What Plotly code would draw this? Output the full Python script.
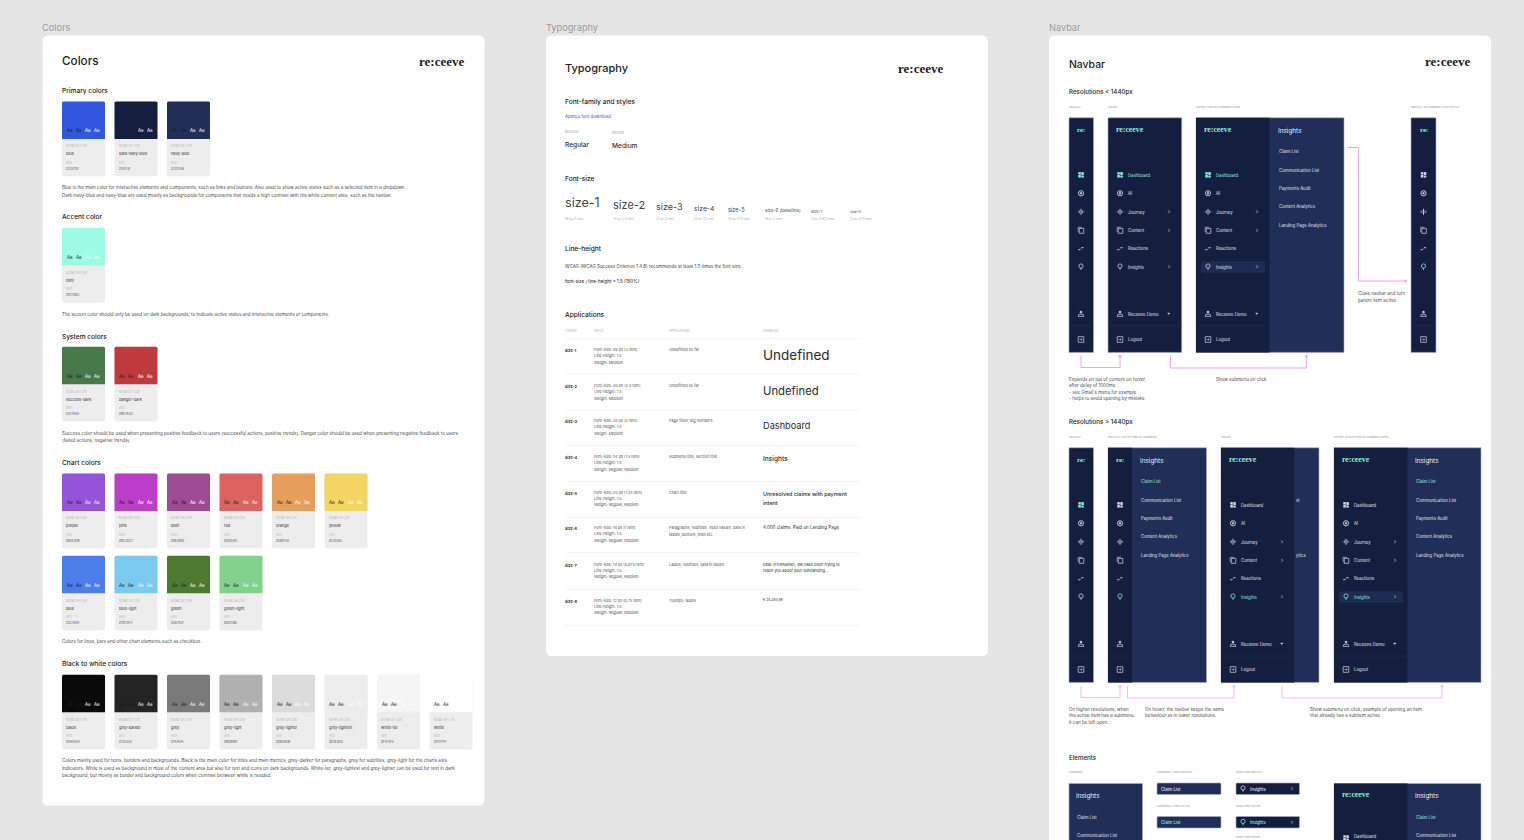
import plotly.graph_objects as go

# ---------- data (text content and palette) ----------
PANEL_LABELS = ["Colors", "Typography", "Navbar"]
PRIMARY_NAMES = ["blue", "dark-navy-blue", "navy-blue"]
PRIMARY_HEX = ["#3257DF", "#141F3F", "#202E58"]
ACCENT_NAMES = ["mint"]
ACCENT_HEX = ["#9CFBE3"]
SYSTEM_NAMES = ["success-dark", "danger-dark"]
SYSTEM_HEX = ["#47794A", "#BE3A3D"]
CHART1_NAMES = ["purple", "pink", "beet", "red", "orange", "yellow"]
CHART1_HEX = ["#9553DB", "#BC3DC7", "#9E4B94", "#DD6361", "#E69F5A", "#F3D563"]
CHART2_NAMES = ["blue", "blue-light", "green", "green-light"]
CHART2_HEX = ["#4C7EE9", "#7BCAF0", "#4D7A2F", "#82D18D"]
GREY_NAMES = ["black", "grey-darker", "grey", "grey-light", "grey-lighter", "grey-lightest", "white-ter", "white"]
GREY_HEX = ["#0A0A0A", "#242424", "#7A7A7A", "#B0B0B0", "#DBDBDB", "#EDEDED", "#F5F5F5", "#FFFFFF"]

PRIMARY_NOTE = ["Blue is the main color for interactive elements and components, such as links and buttons. Also used to show active states such as a selected item in a dropdown.",
                "Dark-navy-blue and navy-blue are used mostly as backgrounds for components that needs a high contrast with the white content area, such as the navbar."]
ACCENT_NOTE = ["The accent color should only be used on dark backgrounds, to indicate active states and interactive elements or components."]
SYSTEM_NOTE = ["Success color should be used when presenting positive feedback to users (successful actions, positive trends). Danger color should be used when presenting negative feedback to users",
               "(failed actions, negative trends)."]
CHART_NOTE = ["Colors for lines, bars and other chart elements such as checkbox."]
GREY_NOTE = ["Colors mainly used for texts, borders and backgrounds. Black is the main color for titles and main metrics, grey-darker for paragraphs, grey for subtitles, grey-light for the charts axis",
             "indicators. White is used as background in most of the content area but also for text and icons on dark backgrounds. White-ter, grey-lightest and grey-lighter can be used for text in dark",
             "background, but mostly as border and background colors when contrast between white is needed."]

SIZE_TOKENS = ["size-1", "size-2", "size-3", "size-4", "size-5", "size-6 (baseline)", "size-7", "size-8"]
SIZE_SPECS = ["48 px (3 rem)", "40 px (2.5 rem)", "32 px (2 rem)", "24 px (1.5 rem)", "20 px (1.25 rem)", "16 px (1 rem)", "14 px (0.875 rem)", "12 px (0.75 rem)"]
ROW_TOKENS = ["size-1", "size-2", "size-3", "size-4", "size-5", "size-6", "size-7", "size-8"]
ROW_SPEC1 = ["Font-size: 48 px (3 rem)", "Font-size: 40 px (2.5 rem)", "Font-size: 32 px (2 rem)", "Font-size: 24 px (1.5 rem)",
             "Font-size: 20 px (1.25 rem)", "Font-size: 16 px (1 rem)", "Font-size: 14 px (0.875 rem)", "Font-size: 12 px (0.75 rem)"]
ROW_SPEC3 = ["Weight: Medium", "Weight: Medium", "Weight: Medium", "Weight: Regular, Medium",
             "Weight: Regular, Medium", "Weight: Regular, Medium", "Weight: Regular, Medium", "Weight: Regular, Medium"]
ROW_APPS = [["Undefined so far"], ["Undefined so far"], ["Page titles, Big numbers"], ["Submenu title, Section title"], ["Chart title"],
            ["Paragraphs, subtitles, input values, data in", "tables, buttons, links etc"], ["Labels, subtitles, data in tables"], ["Tooltips, labels"]]
ROW_EXAMPLES = [["Undefined"], ["Undefined"], ["Dashboard"], ["Insights"], ["Unresolved claims with payment", "intent"],
                ["4.000 claims. Paid on Landing Page"], ["Dear {FirstName}, We have been trying to", "reach you about your outstanding..."], ["€ 24.280,89"]]

NAV_ITEMS = ["Dashboard", "AI", "Journey", "Content", "Reactions", "Insights"]
NAV_KINDS = ["dash", "ai", "journey", "content", "react", "bulb"]
NAV_ARROWS = [False, False, True, True, False, True]
SUB_ITEMS = ["Claim List", "Communication List", "Payments Audit", "Content Analytics", "Landing Page Analytics"]

# ---------- colours and helpers ----------
BG, WHITE, CARD = "#E5E5E5", "#FFFFFF", "#EDEDED"
DARK, NAVY, ACT = PRIMARY_HEX[1], PRIMARY_HEX[2], "#1E2B52"
MINT = "#8FEFD6"
INK, BODY, MUTE = "#1C1C1C", "#444444", "#B0B0B0"
ICON = "#D6D9E2"
NAVTXT = "#E2E4EB"
PINK1, PINK2 = "#EE96EE", "#F3B4F0"
FONT = "Inter"
SERIF = "Liberation Serif"
RULE = "#EEEEEE"
EDGE = "#A6ADC2"
NOTE = 4.5

shapes, notes = [], []


def rrect(x0, y0, x1, y1, fill, r=0.0, line=None, lw=0.6):
    if r:
        p = (f"M{x0+r},{y0} L{x1-r},{y0} Q{x1},{y0} {x1},{y0+r} L{x1},{y1-r} Q{x1},{y1} {x1-r},{y1} "
             f"L{x0+r},{y1} Q{x0},{y1} {x0},{y1-r} L{x0},{y0+r} Q{x0},{y0} {x0+r},{y0} Z")
        shapes.append(dict(type="path", path=p, fillcolor=fill, line=dict(width=lw if line else 0, color=line or fill), layer="below"))
    else:
        shapes.append(dict(type="rect", x0=x0, y0=y0, x1=x1, y1=y1, fillcolor=fill, line=dict(width=lw if line else 0, color=line or fill), layer="below"))


def topround(x0, y0, x1, y1, fill, r=1.5):
    p = (f"M{x0},{y1} L{x0},{y0+r} Q{x0},{y0} {x0+r},{y0} L{x1-r},{y0} Q{x1},{y0} {x1},{y0+r} L{x1},{y1} Z")
    shapes.append(dict(type="path", path=p, fillcolor=fill, line=dict(width=0), layer="below"))


def poly(pts, color, lw=0.8, fill=None, close=False):
    p = "M" + " L".join(f"{x},{y}" for x, y in pts) + (" Z" if close else "")
    shapes.append(dict(type="path", path=p, line=dict(color=color, width=lw), fillcolor=fill or "rgba(0,0,0,0)", layer="below"))


def circ(cx, cy, r, color, fill=None, lw=0.7):
    shapes.append(dict(type="circle", x0=cx-r, y0=cy-r, x1=cx+r, y1=cy+r, fillcolor=fill or "rgba(0,0,0,0)", line=dict(color=color, width=lw), layer="below"))


def t(x, y, s, size=4.5, color=BODY, weight=400, fam=FONT, anchor="left"):
    notes.append(dict(x=x, y=y+0.4, text=s, showarrow=False, xanchor=anchor, yanchor="middle", borderpad=0, borderwidth=0,
                      font=dict(size=size, color=color, family=fam, weight=weight), align="left"))


def logo(x, y, size=13, color=INK):
    t(x, y, "re:ceeve", size, color, 700, SERIF)


def swatch(x, top, name, hexv):
    w, h1, h2 = 43, 37.5, 74.8
    rrect(x, top, x+w, top+h2, CARD, 2)
    if hexv.upper() != "#FFFFFF":
        topround(x, top, x+w, top+h1, hexv)
    else:
        rrect(x, top, x+w, top+h1, WHITE)
    dark = "#1A1A1A"
    for dx, c in zip((7.7, 16.5, 26, 35), (dark, dark, "#FFFFFF", "#FFFFFF")):
        t(x+dx, top+29, "Aa", 4.4, c, 400, FONT, "center")
    t(x+4, top+44.5, "NOME DA COR", 2.9, "#B5B5B5")
    t(x+4, top+52, name, 3.9, "#333333")
    t(x+4, top+61, "HEX", 2.9, "#B5B5B5")
    t(x+4, top+67, hexv.upper(), 3.0, "#555555")


def swatches(names, hexes, top):
    for i, (n, h) in enumerate(zip(names, hexes)):
        swatch(62 + 52.5*i, top, n, h)


def block(lines, ys, x=62, size=NOTE):
    for s, y in zip(lines, ys):
        t(x, y, s, size, "#4A4A4A")


def icon(kind, x, y, c=ICON):
    if kind == "dash":
        for dx, dy, w, h in ((-2.7, -2.7, 2.5, 2.3), (0.3, -2.7, 2.5, 3), (-2.7, 0, 2.5, 2.8), (0.3, 0.8, 2.5, 2)):
            rrect(x+dx, y+dy, x+dx+w, y+dy+h, c)
    elif kind == "ai":
        circ(x, y, 2.6, c, DARK, 0.9)
        circ(x, y, 1.0, c, c, 0.3)
    elif kind == "journey":
        poly([(x, y-3), (x, y+3)], c, 0.9)
        poly([(x-1.6, y-1.5), (x-1.6, y+1.5)], c, 0.7)
        poly([(x+1.6, y-1.5), (x+1.6, y+1.5)], c, 0.7)
        poly([(x-3, y-0.5), (x-3, y+0.5)], c, 0.6)
        poly([(x+3, y-0.5), (x+3, y+0.5)], c, 0.6)
    elif kind == "content":
        poly([(x-2.8, y+1.8), (x-2.8, y-3), (x+1, y-3)], c, 0.6)
        rrect(x-1.7, y-1.9, x+2.8, y+3, DARK, 0, c, 0.7)
    elif kind == "react":
        poly([(x-2.8, y+1.2), (x-0.6, y+1.2)], c, 0.9)
        poly([(x+0.4, y-0.8), (x+2.6, y-0.8)], c, 0.9)
        poly([(x-0.4, y+0.8), (x+0.4, y-0.2)], c, 0.5)
    elif kind == "bulb":
        circ(x, y-0.8, 2.1, c, None, 0.75)
        poly([(x, y+1.3), (x, y+3)], c, 0.9)
    elif kind == "user":
        circ(x, y-1.7, 1.1, c, c, 0.3)
        poly([(x-2.8, y+2.6), (x-2.1, y+0.5), (x+2.1, y+0.5), (x+2.8, y+2.6)], c, 0.7, None, True)
    elif kind == "logout":
        rrect(x-2.8, y-2.8, x+2.8, y+2.8, DARK, 0, c, 0.7)
        poly([(x-1.4, y), (x+1.2, y)], c, 0.6)
        poly([(x, y-1.1), (x+1.2, y), (x, y+1.1)], c, 0.5)


def chevron(x, y, c=ICON):
    poly([(x-0.7, y-1.4), (x+0.7, y), (x-0.7, y+1.4)], c, 0.7)


def rail(x, top, dash_active=False, bulb_active=False):
    cx = x + 12
    t(cx, top+11.5, "re:", 7, MINT, 700, SERIF, "center")
    for off, k in zip((57, 75.5, 94, 112.5, 130.7, 149), NAV_KINDS):
        col = ICON
        if k == "dash" and dash_active:
            col = MINT
        if k == "bulb" and bulb_active:
            col = MINT
        icon(k, cx, top+off, col)
    icon("user", cx, top+196)
    icon("logout", cx, top+221.7)


def full_nav(x, top, text_active, open_active=False):
    t(x+7.5, top+11.5, "re:ceeve", 7.8, MINT, 700, SERIF)
    if open_active:
        rrect(x+5, top+143.5, x+69, top+155, ACT, 1.2)
    for off, lab, k, arr in zip((57, 75.5, 94, 112.5, 130.7, 149), NAV_ITEMS, NAV_KINDS, NAV_ARROWS):
        act = lab == text_active
        col = MINT if act else ICON
        icon(k, x+12, top+off, col)
        t(x+19.5, top+off, lab, 4.3, MINT if act else NAVTXT, 400)
        if arr:
            chevron(x+61, top+off, MINT if act else ICON)
    icon("user", x+12, top+196)
    t(x+19.5, top+196, "Receeve Demo", 4.3, NAVTXT)
    poly([(x+59.5, top+195.2), (x+62, top+195.2), (x+60.75, top+196.8)], ICON, 0.3, ICON, True)
    icon("logout", x+12, top+221.7)
    t(x+19.5, top+221.7, "Logout", 4.3, NAVTXT)


def submenu(x, top, first_active=False):
    t(x, top+12.7, "Insights", 6.4, "#EEF0F4")
    for off, lab, i in zip((33.5, 52, 70, 88.7, 107), SUB_ITEMS, range(5)):
        t(x+1, top+off, lab, 4.3, MINT if (first_active and i == 0) else NAVTXT)


def divider(x0, x1, y):
    poly([(x0, y), (x1, y)], "#243054", 0.5)


def connector(pts, color, end="up"):
    poly(pts, color, 0.9)
    x, y = pts[-1]
    if end == "up":
        poly([(x-1.6, y+2), (x, y), (x+1.6, y+2)], color, 0.3, color, True)
    else:
        poly([(x-2, y-1.6), (x, y), (x-2, y+1.6)], color, 0.3, color, True)


# ---------- page ----------
for x, lab in zip((42, 546, 1049), PANEL_LABELS):
    t(x, 27.4, lab, 9.2, "#9A9A9A", 400)

rrect(42.5, 35.5, 484.5, 805.5, WHITE, 6)
rrect(546, 35.5, 988, 656, WHITE, 6)
rrect(1049, 35.5, 1491, 900, WHITE, 6)

# ---------- Colors panel ----------
t(62, 60.6, "Colors", 11.7, INK, 500)
logo(418.5, 61)

t(62, 90.6, "Primary colors", 6.6, INK, 500)
swatches(PRIMARY_NAMES, PRIMARY_HEX, 101.5)
block(PRIMARY_NOTE, (187.5, 195))
t(62, 216.6, "Accent color", 6.6, INK, 500)
swatches(ACCENT_NAMES, ACCENT_HEX, 228)
block(ACCENT_NOTE, (314,))
t(62, 336.2, "System colors", 6.6, INK, 500)
swatches(SYSTEM_NAMES, SYSTEM_HEX, 346.7)
block(SYSTEM_NOTE, (433, 440))
t(62, 462.6, "Chart colors", 6.6, INK, 500)
swatches(CHART1_NAMES, CHART1_HEX, 473.5)
swatches(CHART2_NAMES, CHART2_HEX, 555.7)
block(CHART_NOTE, (641.5,))
t(62, 663.6, "Black to white colors", 6.6, INK, 500)
swatches(GREY_NAMES, GREY_HEX, 674.7)
block(GREY_NOTE, (760.5, 768, 775.5))

# ---------- Typography panel ----------
t(565, 67.6, "Typography", 11, INK, 500)
logo(898, 68)
t(565, 101.2, "Font-family and styles", 6.6, INK, 500)
t(565, 115.7, "Aperçu font download", 4.4, "#3257DF")
t(565, 131.4, "REGULAR", 2.9, "#9A9A9A")
t(612, 132.2, "MEDIUM", 2.9, "#9A9A9A")
t(565, 145, "Regular", 6.6, "#333333", 500)
t(612, 145.5, "Medium", 6.6, "#333333", 500)
t(565, 178.8, "Font-size", 6.6, INK, 500)
for x, y, fs, tok, sp in zip((565, 612.5, 655.5, 694, 728, 764.5, 811, 849.5),
                             (202.5, 204.5, 206.5, 208, 209, 210.2, 211, 211.2),
                             (12.6, 11, 9, 6.8, 5.6, 4.5, 4, 3.6), SIZE_TOKENS, SIZE_SPECS):
    t(x, y, tok, fs, "#444444")
    t(x, 219, sp, 2.9, "#AAAAAA")
t(565, 249, "Line-height", 6.6, INK, 500)
t(565, 266, "WCAG (WCAG Success Criterion 1.4.8) recommends at least 1.5 times the font size.", NOTE, "#3C3C3C")
t(565, 281, "font-size / line-height = 1.5 (150%)", NOTE, "#3C3C3C", 500)
t(565, 315, "Applications", 6.6, INK, 500)
for x, lab in zip((565, 594, 669, 763), ("TOKENS", "SPECS", "APPLICATIONS", "EXAMPLES")):
    t(x, 331, lab, 2.9, "#AAAAAA")

RULES_Y = (339, 374, 410, 445.7, 481.7, 517.3, 552.3, 589.3, 625.3)
for y in RULES_Y:
    poly([(565, y), (860, y)], RULE, 0.7)
TOKEN_Y = (350, 386, 421, 457, 492.7, 528, 564.7, 600.7)
EX_STYLE = ((13.5, 400), (11.3, 400), (9.2, 400), (6.6, 500), (5.4, 500), (4.5, 400), (3.9, 400), (3.4, 400))
EX_Y = ((355,), (391,), (425,), (458.7,), (493.7, 502.7), (527.3,), (564, 570.3), (599.3,))
for i, ty in enumerate(TOKEN_Y):
    t(565, ty, ROW_TOKENS[i], 3.9, "#333333", 700)
    t(594, ty-0.7, ROW_SPEC1[i], 3.8, "#555555")
    t(594, ty+5.5, "Line-height: 1.5", 3.8, "#555555")
    t(594, ty+11.8, ROW_SPEC3[i], 3.8, "#555555")
    for j, s in enumerate(ROW_APPS[i]):
        t(669, ty-0.7+6.3*j, s, 3.8, "#555555")
    for y, s in zip(EX_Y[i], ROW_EXAMPLES[i]):
        t(763, y, s, EX_STYLE[i][0], "#2A2A2A", EX_STYLE[i][1])

# ---------- Navbar panel ----------
t(1069, 63.6, "Navbar", 10.4, INK, 500)
logo(1425, 61)
t(1069, 91.3, "Resolutions < 1440px", 6.2, INK, 500)
for x, lab in zip((1069, 1108, 1196, 1411), ("DEFAULT", "HOVER", "HOVER: ITEM W/ SUBMENU OPEN", "DEFAULT W/ SUBMENU ITEM ACTIVE")):
    t(x, 107, lab, 2.7, "#8F8F8F")

H = 234.6
T1, T2 = 117.8, 447.8
# small-resolution row
rrect(1069, T1, 1093.5, T1+H, DARK, 0, EDGE)
rail(1069, T1, dash_active=True)
divider(1069, 1093.5, T1+208.3)
rrect(1108, T1, 1181.7, T1+H, DARK, 0, EDGE)
full_nav(1108, T1, "Dashboard")
divider(1108, 1181.7, T1+208.3)
rrect(1196, T1, 1344, T1+H, NAVY, 0, EDGE)
rrect(1196, T1, 1269.5, T1+H, DARK)
full_nav(1196, T1, "Dashboard", open_active=True)
divider(1196, 1269.5, T1+208.3)
submenu(1277.5, T1)
rrect(1411, T1, 1436, T1+H, DARK, 0, EDGE)
rail(1411.5, T1, bulb_active=True)
divider(1411, 1436, T1+208.3)

connector([(1348, 147.5), (1358.5, 147.5), (1358.5, 281), (1407, 281)], PINK1, "right")
connector([(1081, 356), (1081, 367.5), (1120, 367.5), (1120, 355)], PINK1)
connector([(1170.5, 356), (1170.5, 368), (1306.5, 368), (1306.5, 355)], PINK1)
block(("Close navbar and turn", "parent item active"), (293.5, 300), 1358)
block(("Expands on top of content on hover,", "after delay of 1000ms", "- see Gmail's menu for example", "- helps to avoid opening by mistake"),
      (379, 385.5, 392, 398.3), 1069)
block(("Show submenu on click",), (379,), 1216)

# large-resolution row
t(1069, 421.5, "Resolutions > 1440px", 6.2, INK, 500)
for x, lab in zip((1069, 1108, 1221, 1334), ("DEFAULT", "DEFAULT: ACTIVE ITEM W/ SUBMENU", "HOVER", "HOVER: ACTIVE ITEM W/ SUBMENU OPEN")):
    t(x, 437, lab, 2.7, "#8F8F8F")
rrect(1069, T2, 1093.5, T2+H, DARK, 0, EDGE)
rail(1069, T2, dash_active=True)
divider(1069, 1093.5, T2+208.3)
rrect(1108, T2, 1206.5, T2+H, NAVY, 0, EDGE)
rrect(1108, T2, 1132, T2+H, DARK)
rail(1108, T2, bulb_active=True)
divider(1108, 1132, T2+208.3)
submenu(1140, T2, True)
rrect(1221, T2, 1319, T2+H, NAVY, 0, EDGE)
rrect(1221, T2, 1294.5, T2+H, DARK)
full_nav(1221, T2, "Insights")
divider(1221, 1294.5, T2+208.3)
t(1295.5, T2+52, "st", 4.3, NAVTXT)
t(1295.5, T2+107, "ytics", 4.3, NAVTXT)
rrect(1334, T2, 1481, T2+H, NAVY, 0, EDGE)
rrect(1334, T2, 1407.5, T2+H, DARK)
full_nav(1334, T2, "Insights", open_active=True)
divider(1334, 1407.5, T2+208.3)
submenu(1415, T2, True)

connector([(1081, 686), (1081, 697.5), (1120, 697.5), (1120, 685)], PINK2)
connector([(1127.5, 686), (1127.5, 698), (1234, 698), (1234, 685)], PINK2)
connector([(1282, 686), (1282, 698), (1442, 698), (1442, 685)], PINK2)
block(("On higher resolutions, when", "the active item has a submenu", "it can be left open."), (709, 715.5, 722), 1069)
block(("On hover, the navbar keeps the same", "behaviour as in lower resolutions."), (709, 715.5), 1145)
block(("Show submenu on click; example of opening an item", "that already has a subitem active"), (709, 715.5), 1310)

# elements
t(1069, 757, "Elements", 6.2, INK, 500)
t(1069, 772, "SUBMENU", 2.7, "#8F8F8F")
t(1157, 772, "SUBMENU / ITEM DEFAULT", 2.7, "#8F8F8F")
t(1236, 772, "MAIN ITEM DEFAULT", 2.7, "#8F8F8F")
t(1157, 806, "SUBMENU / ITEM ACTIVE", 2.7, "#8F8F8F")
t(1236, 806, "MAIN ITEM ACTIVE", 2.7, "#8F8F8F")
t(1236, 837, "MAIN ITEM HOVER", 2.7, "#8F8F8F")
rrect(1069, 783.5, 1142.5, 900, NAVY, 0, EDGE)
t(1076, 796, "Insights", 6.4, "#EEF0F4")
t(1077, 817, SUB_ITEMS[0], 4.3, NAVTXT)
t(1077, 835, SUB_ITEMS[1], 4.3, NAVTXT)
rrect(1157, 783, 1221, 794.5, NAVY, 1, EDGE)
t(1161, 788.7, SUB_ITEMS[0], 4.2, NAVTXT, 500)
rrect(1157, 816.5, 1221, 828, NAVY, 1, EDGE)
t(1161, 822.2, SUB_ITEMS[0], 4.2, MINT, 500)
rrect(1236, 783, 1299.5, 794.5, DARK, 1, EDGE)
icon("bulb", 1243, 788.7)
t(1250, 788.7, "Insights", 4.2, NAVTXT, 500)
chevron(1292, 788.7)
rrect(1236, 816.5, 1299.5, 828, DARK, 1, EDGE)
icon("bulb", 1243, 822.2, MINT)
t(1250, 822.2, "Insights", 4.2, MINT, 500)
chevron(1292, 822.2, MINT)
rrect(1334, 783.5, 1481, 900, NAVY, 0, EDGE)
rrect(1334, 783.5, 1407.5, 900, DARK)
t(1341.5, 794.5, "re:ceeve", 7.8, MINT, 700, SERIF)
t(1415, 796, "Insights", 6.4, "#EEF0F4")
t(1416, 817, SUB_ITEMS[0], 4.3, MINT)
t(1416, 835, SUB_ITEMS[1], 4.3, NAVTXT)
icon("dash", 1346, 838)
t(1353.5, 836, NAV_ITEMS[0], 4.3, NAVTXT)

# ---------- figure ----------
fig = go.Figure()
fig.update_layout(
    width=1524, height=840, margin=dict(l=0, r=0, t=0, b=0, pad=0),
    paper_bgcolor=BG, plot_bgcolor=BG, showlegend=False,
    xaxis=dict(range=[0, 1524], visible=False, fixedrange=True),
    yaxis=dict(range=[840, 0], visible=False, fixedrange=True),
    shapes=shapes, annotations=notes,
)
fig.write_html("out.html", config=dict(displayModeBar=False),
               post_script="document.body.style.margin='0';document.body.style.overflow='hidden';document.body.style.background='#E5E5E5';")
